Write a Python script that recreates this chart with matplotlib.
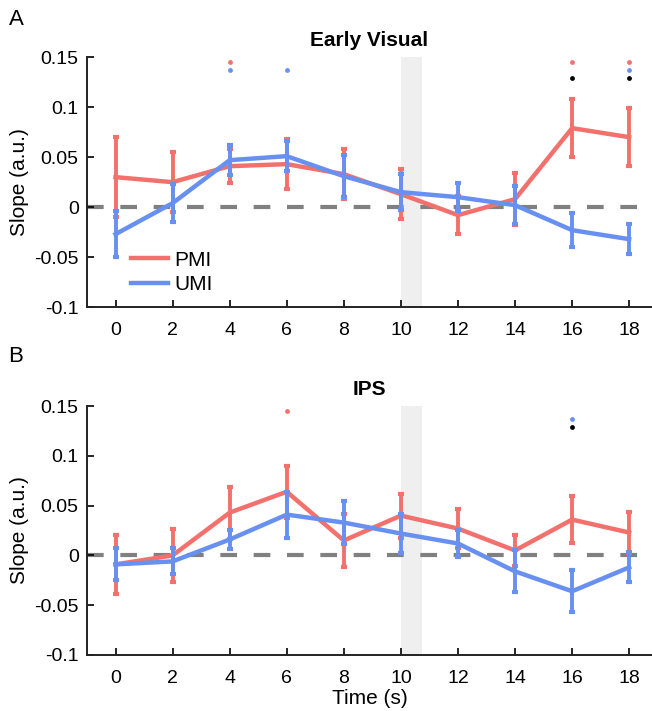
import numpy as np
import matplotlib
matplotlib.use("Agg")
import matplotlib.pyplot as plt
from matplotlib.lines import Line2D

plt.rcParams['font.family'] = ['Liberation Sans', 'DejaVu Sans']

# ---------data-------------------
time_s = [0, 2, 4, 6, 8, 10, 12, 14, 16, 18]

# Early Visual
ev_pmi = [0.030, 0.025, 0.041, 0.043, 0.033, 0.013, -0.008, 0.008, 0.079, 0.070]
ev_pmi_err = [0.040, 0.030, 0.017, 0.025, 0.025, 0.025, 0.019, 0.026, 0.029, 0.029]
ev_umi = [-0.027, 0.004, 0.047, 0.051, 0.031, 0.015, 0.010, 0.002, -0.023, -0.032]
ev_umi_err = [0.023, 0.019, 0.015, 0.015, 0.021, 0.018, 0.014, 0.019, 0.017, 0.015]

# IPS
ips_pmi = [-0.009, 0.000, 0.043, 0.064, 0.015, 0.040, 0.027, 0.005, 0.036, 0.023]
ips_pmi_err = [0.030, 0.027, 0.026, 0.026, 0.027, 0.022, 0.020, 0.016, 0.024, 0.021]
ips_umi = [-0.009, -0.006, 0.016, 0.041, 0.033, 0.022, 0.012, -0.016, -0.036, -0.012]
ips_umi_err = [0.016, 0.013, 0.010, 0.023, 0.022, 0.020, 0.014, 0.021, 0.021, 0.015]

# significance markers (times)
ev_sig_pmi = [4, 16, 18]
ev_sig_umi = [4, 6, 18]
ev_sig_diff = [16, 18]
ips_sig_pmi = [6]
ips_sig_umi = [16]
ips_sig_diff = [16]

sig_levels = [0.145, 0.137, 0.129]
delay_window = [10, 10.75]
# ---------------------------------

red = '#F2716C'
blue = '#6890F0'


def draw_panel(ax, pmi, pmi_err, umi, umi_err, sig_pmi, sig_umi, sig_diff, title):
    ax.axvspan(delay_window[0], delay_window[1], color='#EFEFEF', lw=0, zorder=0)
    ax.axhline(0, color='#808080', lw=3, dashes=(4, 4), zorder=1)

    ax.errorbar(time_s, pmi, yerr=pmi_err, color=red, lw=3.2, elinewidth=2.8,
                capsize=2, capthick=3, zorder=2)
    ax.errorbar(time_s, umi, yerr=umi_err, color=blue, lw=3.2, elinewidth=2.8,
                capsize=2, capthick=3, zorder=3)

    ax.scatter(sig_pmi, [sig_levels[0]] * len(sig_pmi), s=12, color=red, lw=0)
    ax.scatter(sig_umi, [sig_levels[1]] * len(sig_umi), s=12, color=blue, lw=0)
    ax.scatter(sig_diff, [sig_levels[2]] * len(sig_diff), s=12, color='black', lw=0)

    ax.set_xlim(-1, 18.8)
    ax.set_ylim(-0.1, 0.15)
    ax.set_xticks(time_s)
    ax.set_yticks([-0.1, -0.05, 0, 0.05, 0.1, 0.15])
    ax.set_yticklabels(['-0.1', '-0.05', '0', '0.05', '0.1', '0.15'])
    ax.tick_params(direction='in', labelsize=14, length=5, width=1.2, pad=6)
    ax.tick_params(axis='x', pad=11)
    for s in ['top', 'right']:
        ax.spines[s].set_visible(False)
    for s in ['left', 'bottom']:
        ax.spines[s].set_linewidth(1.4)
        ax.spines[s].set_color('#222222')
    ax.set_ylabel('Slope (a.u.)', fontsize=15, labelpad=4)
    ax.set_title(title, fontsize=15, fontweight='bold', pad=8)


fig = plt.figure(figsize=(6.52, 7.11), dpi=100)
ax_a = fig.add_axes([0.1334, 0.568, 0.8666, 0.3516])
ax_b = fig.add_axes([0.1334, 0.0788, 0.8666, 0.350])

draw_panel(ax_a, ev_pmi, ev_pmi_err, ev_umi, ev_umi_err,
           ev_sig_pmi, ev_sig_umi, ev_sig_diff, 'Early Visual')
draw_panel(ax_b, ips_pmi, ips_pmi_err, ips_umi, ips_umi_err,
           ips_sig_pmi, ips_sig_umi, ips_sig_diff, 'IPS')

handles = [Line2D([], [], color=red, lw=3.2), Line2D([], [], color=blue, lw=3.2)]
ax_a.legend(handles, ['PMI', 'UMI'], loc='lower left', bbox_to_anchor=(0.063, 0.02),
            frameon=False, fontsize=15, handlelength=1.8, handletextpad=0.3,
            labelspacing=0.25, borderaxespad=0)
ax_b.set_xlabel('Time (s)', fontsize=15, labelpad=1)

fig.text(0.013, 0.987, 'A', fontsize=16, va='top')
fig.text(0.013, 0.514, 'B', fontsize=16, va='top')

fig.savefig('out.png', dpi=100)
